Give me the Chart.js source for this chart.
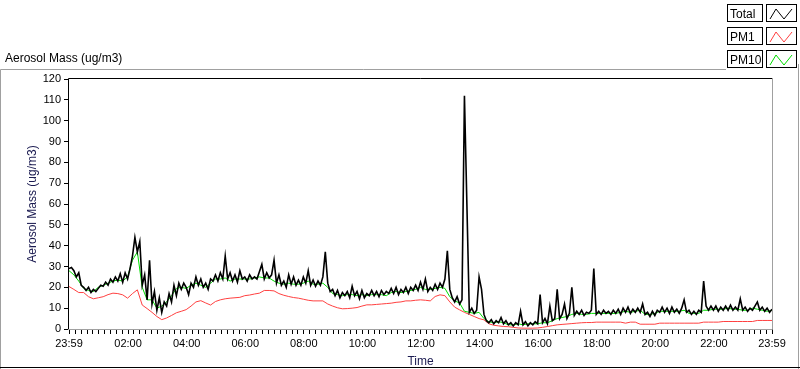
<!DOCTYPE html>
<html>
<head>
<meta charset="utf-8">
<script src="https://cdn.jsdelivr.net/npm/chart.js@4.4.1/dist/chart.umd.min.js"></script>
<style>
	html, body { margin: 0; padding: 0; background: #fff; }
	canvas { display: block; }
</style>
</head>
<body>
<canvas id="myChart" width="800" height="369"></canvas>
<script>
// -- DATA ---------------//
// minutes after the 23:59 start, one value every 5 min (Total) or 10 min (PM1, PM10)
const totalStep = 5;
const pmStep = 10;

const Total = [
	29, 29.5, 28, 25, 27, 21, 20, 18.5, 20, 17.5, 19, 18,
	19.5, 21, 20.5, 22.5, 21, 24, 22.5, 25, 23, 26.5, 22.5, 27,
	24, 29, 35, 44, 37, 42, 21, 26, 14, 33, 12, 18,
	9, 15, 8, 13, 11, 17, 13, 21, 16, 22, 19, 22,
	20, 16.5, 22, 20, 25, 21, 24, 20, 22, 19, 24, 23,
	26, 23, 27, 24, 35, 24, 27, 23, 26, 22.5, 28, 24,
	25, 23, 26, 24, 25, 24, 27.5, 31, 24, 27, 24.5, 26,
	33, 22, 26, 21, 23, 20, 26, 21.5, 25, 21, 23.5, 21,
	25, 22, 28, 21, 23.5, 20.5, 23, 21, 25, 37, 22, 18,
	19, 16, 18.5, 15, 17.5, 16, 18, 15, 20.5, 16, 18, 14.5,
	18.5, 15, 17, 16, 18.5, 16, 18, 15.5, 18.5, 16.5, 18, 17,
	19.5, 17, 20, 16.5, 19, 17.5, 20, 17, 20, 18.5, 21, 18.5,
	22.5, 19, 24, 18, 20, 18.5, 21.5, 19, 22, 20, 24, 37.5,
	19, 15, 13, 15.5, 12, 14, 112, 60, 8, 10, 7.5, 9,
	25, 19, 7, 4, 3, 4.5, 2.5, 4, 3, 5.5, 2.5, 4,
	2, 3, 1.5, 3, 2, 8.5, 2, 3.5, 1.5, 3, 2, 3.5,
	2.5, 16.5, 3, 5, 2.5, 11, 4, 5, 19, 5, 7, 12,
	5, 7.5, 20, 6.5, 8.5, 7, 9, 6.5, 8, 7.5, 9, 29,
	7, 8.5, 7, 9, 7.5, 8.5, 7, 9, 7.5, 9.5, 7, 10,
	8, 10.5, 7.5, 9.5, 8, 10, 8, 12, 7, 8, 6, 8.5,
	6.5, 9, 8, 10.5, 8, 10, 7.5, 10.5, 8, 9.5, 7.5, 10,
	14, 8, 9, 7, 8.5, 7, 9, 8, 23, 11, 9, 11,
	9, 11, 8.5, 10.5, 9, 11, 9, 11.5, 9, 10.5, 9, 14.5,
	9, 10.5, 8.5, 10, 9, 11, 13, 9, 10.5, 8.5, 10, 8,
	9.5
];

const PM1 = [
	20.4, 19, 17.5, 17.5, 15.5, 14.5,
	15, 15.5, 16.5, 17.2, 17, 16.4,
	14.8, 17, 18.8, 11.5, 9.8, 8,
	6, 4.5, 5.3, 6.5, 7.8, 8.5,
	9.3, 11, 13, 13.6, 12.5, 11.5,
	13.2, 14, 14.5, 14.8, 15, 15.2,
	16, 16.3, 16.8, 17.2, 18.5, 18.5,
	18.3, 17, 16.2, 15.6, 15.1, 14.8,
	14.3, 13.8, 13.5, 13.5, 13.5, 12,
	11, 10.2, 9.7, 9.8, 10, 10.3,
	11, 11.6, 11.6, 11.8, 12, 12.2,
	12.4, 12.8, 13, 13.5, 13.5, 13.8,
	14, 13.8, 13.5, 15.6, 16.4, 16,
	13, 10.5, 9.2, 8, 7, 6,
	5, 4.4, 2.5, 1.8, 1.5, 1.2,
	1.1, 0.8, 0.5, 0.4, 0.4, 0.4,
	0.5, 0.8, 1.2, 1.6, 2, 2.2,
	2.4, 2.6, 2.8, 3, 3.1, 3.1,
	3.3, 3.3, 3.3, 3.3, 3.3, 3.3,
	2.8, 3.3, 3.3, 2.3, 2.3, 2.3,
	2.3, 2.8, 2.8, 2.8, 2.8, 2.8,
	2.8, 2.8, 2.8, 2.8, 3.3, 3.3,
	3.3, 3.3, 3.6, 3.6, 3.6, 3.6,
	3.6, 3.6, 3.6, 4.1, 4.1, 4.1,
	4.1
];

const PM10 = [
	28, 26, 23, 19.5, 18.5, 18,
	20, 21, 22, 23, 23.5, 23,
	25, 33, 37, 20, 14, 14,
	10, 11, 13, 16, 19.5, 20,
	19.5, 21, 22, 21, 20, 22,
	24, 24, 24.5, 23, 24, 24,
	24, 24, 24.5, 25, 24.5, 24.5,
	23, 22, 21.5, 22, 21.5, 21.5,
	22, 23, 21.5, 21.5, 22, 20,
	17, 16.5, 16, 16.5, 16.5, 16,
	16.5, 16, 16.5, 16.5, 16.5, 16,
	17.5, 18, 17.5, 18, 18.5, 19,
	20, 19, 19, 19.5, 20, 19.5,
	15.5, 13.5, 12.5, 8.5, 8, 7.5,
	8, 5, 3.5, 3, 3.5, 3,
	2, 2, 2.5, 2, 2.5, 2.5,
	2.5, 3, 3, 4, 5, 5.5,
	6, 7, 7.5, 7, 7, 7.5,
	7.5, 7.5, 7.5, 7.5, 7.5, 8,
	8.5, 8, 8.5, 9, 7, 7,
	7.5, 8.5, 8.5, 8.5, 8.5, 8.5,
	9, 7.5, 7.5, 7.5, 9, 9,
	9.5, 9.5, 9.5, 10, 9.5, 9.5,
	9, 9, 10, 9.5, 9, 8.5,
	9
];

const Legend_labels = ['Total', 'PM1', 'PM10'];
const Legend_colors = ['#000000', '#ff4040', '#00dd00'];
const yTitle = 'Aerosol Mass (ug/m3)';
const xTitle = 'Time';

function toPoints(values, step) {
	return values.map((v, i) => ({ x: i * step, y: v }));
}

// x ticks: 23:59 at both ends, a mark every 12 min lined up on the even hours
const xTicks = [0];
for (let m = 13; m < 1440; m += 12) xTicks.push(m);
xTicks.push(1440);

function timeLabel(v) {
	if (v === 0 || v === 1440) return '23:59';
	if ((v - 1) % 120 === 0) {
		const h = (v - 1) / 60;
		return (h < 10 ? '0' + h : '' + h) + ':00';
	}
	return '';
}

// -- FRAME, TITLES AND LEGEND ---------------//
const framePlugin = {
	id: 'frame',
	beforeDraw(chart) {
		const c = chart.ctx;
		c.save();
		c.fillStyle = '#fff';
		c.fillRect(0, 0, chart.width, chart.height);
		c.restore();
	},
	afterDraw(chart) {
		const c = chart.ctx;
		const a = chart.chartArea;
		c.save();
		c.lineWidth = 1;

		// outer panel
		c.strokeStyle = '#a0a0a0';
		c.beginPath();
		c.moveTo(0.5, 369); c.lineTo(0.5, 69.5); c.lineTo(726, 69.5);
		c.moveTo(798.5, 64); c.lineTo(798.5, 369);
		c.stroke();
		c.strokeStyle = '#000';
		c.beginPath();
		c.moveTo(0, 367.5); c.lineTo(800, 367.5);
		c.stroke();

		// plot box: dark top/left, grey bottom/right
		c.strokeStyle = '#000';
		c.beginPath();
		c.moveTo(a.left - 0.5, a.bottom + 1); c.lineTo(a.left - 0.5, a.top - 0.5); c.lineTo(a.right + 1, a.top - 0.5);
		c.stroke();
		c.strokeStyle = '#a0a0a0';
		c.beginPath();
		c.moveTo(a.left - 1, a.bottom + 0.5); c.lineTo(a.right + 0.5, a.bottom + 0.5); c.lineTo(a.right + 0.5, a.top - 1);
		c.stroke();

		// titles
		c.fillStyle = '#000';
		c.font = '12px "Liberation Sans", Arial, sans-serif';
		c.textAlign = 'left';
		c.textBaseline = 'alphabetic';
		c.fillText(yTitle, 5, 62);
		c.fillStyle = '#1a1a50';
		c.textAlign = 'center';
		c.fillText(xTitle, (a.left + a.right) / 2, 365);
		c.save();
		c.translate(36, (a.top + a.bottom) / 2);
		c.rotate(-Math.PI / 2);
		c.fillText(yTitle, 0, 0);
		c.restore();

		// legend boxes
		c.textAlign = 'left';
		for (let i = 0; i < Legend_labels.length; i++) {
			const y0 = 4 + i * 23;
			c.strokeStyle = '#000';
			c.strokeRect(727.5, y0 + 0.5, 35, 17);
			c.strokeRect(766.5, y0 + 0.5, 30, 17);
			c.fillStyle = '#000';
			c.fillText(Legend_labels[i], 730, y0 + 14);
			c.strokeStyle = Legend_colors[i];
			c.beginPath();
			c.moveTo(770, y0 + 15);
			c.lineTo(776, y0 + 5);
			c.lineTo(784, y0 + 15);
			c.lineTo(792, y0 + 5);
			c.stroke();
		}
		c.restore();
	}
};

// -- CHART ---------------//
const ctx = document.getElementById('myChart').getContext('2d');

const myChart = new Chart(ctx, {
	type: 'line',
	data: {
		datasets: [
			{
				label: 'Total',
				data: toPoints(Total, totalStep),
				borderColor: Legend_colors[0],
				borderWidth: 1.6, // heavier so the noisy trace reads as a dense band
			},
			{
				label: 'PM1',
				data: toPoints(PM1, pmStep),
				borderColor: Legend_colors[1],
			},
			{
				label: 'PM10',
				data: toPoints(PM10, pmStep),
				borderColor: Legend_colors[2],
			},
		],
	},
	options: {
		responsive: false,
		animation: false,
		elements: {
			line: { borderWidth: 1, tension: 0 },
			point: { radius: 0 },
		},
		layout: {
			padding: { left: 0, right: 28, top: 79, bottom: 0 },
		},
		plugins: {
			legend: { display: false },
			tooltip: { enabled: false },
		},
		scales: {
			x: {
				type: 'linear',
				min: 0,
				max: 1440,
				afterFit: (scale) => { scale.height = 40; },
				afterBuildTicks: (scale) => { scale.ticks = xTicks.map(v => ({ value: v })); },
				border: { display: false },
				grid: {
					drawOnChartArea: false,
					tickLength: 5,
					tickColor: '#000',
				},
				ticks: {
					autoSkip: false,
					maxRotation: 0,
					padding: 3,
					color: '#000',
					font: { family: '"Liberation Sans", Arial, sans-serif', size: 11 },
					callback: (v) => timeLabel(v),
				},
			},
			y: {
				min: 0,
				max: 120,
				afterFit: (scale) => { scale.width = 69; },
				border: { display: false },
				grid: {
					drawOnChartArea: false,
					tickLength: 5,
					tickColor: '#000',
				},
				ticks: {
					stepSize: 10,
					padding: 3,
					color: '#000',
					font: { family: '"Liberation Sans", Arial, sans-serif', size: 11 },
				},
			},
		},
	},
	plugins: [framePlugin],
});
</script>
</body>
</html>
